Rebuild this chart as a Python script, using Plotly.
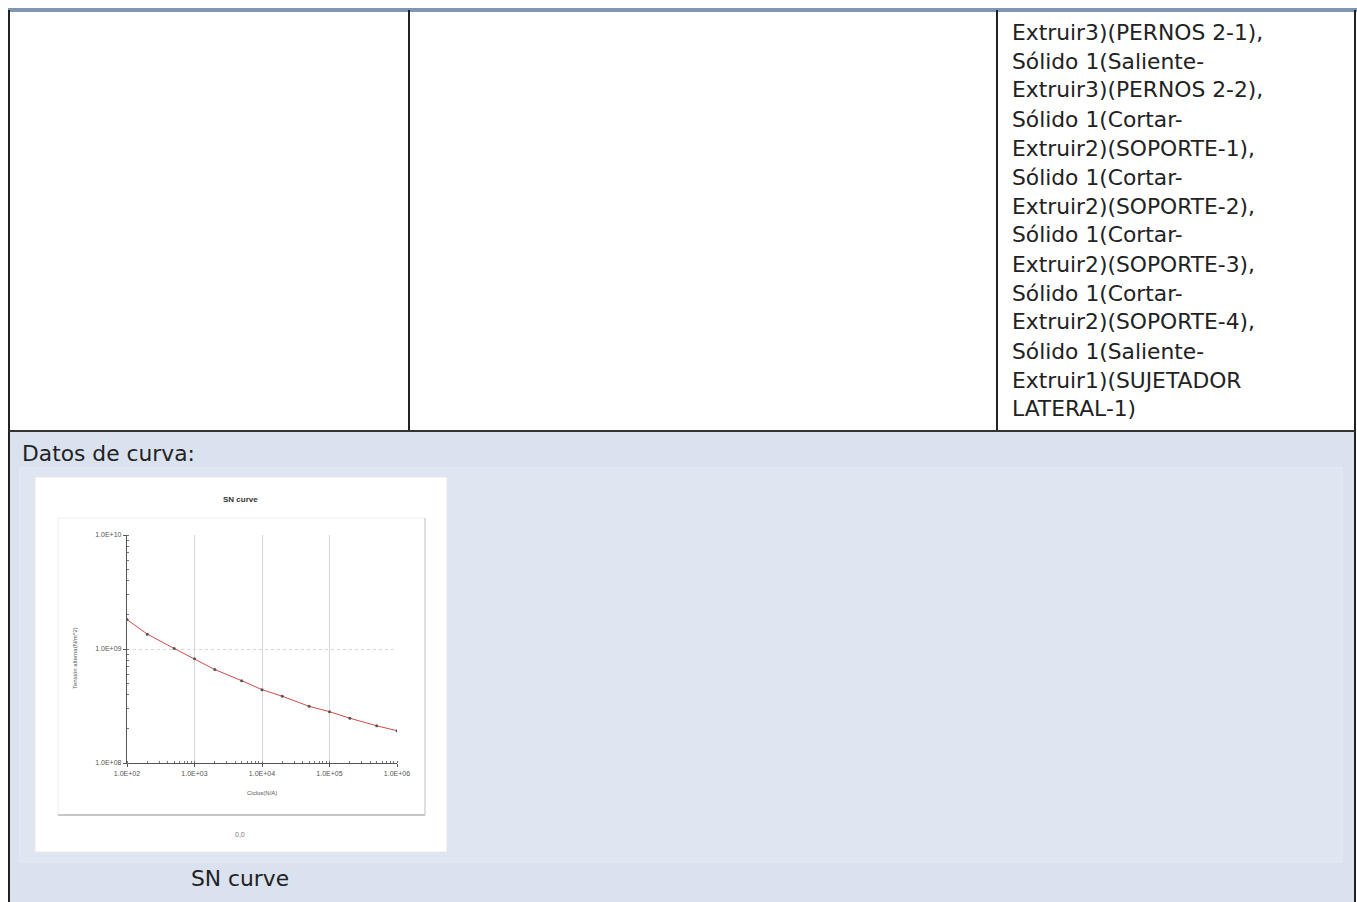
import plotly.graph_objects as go

# ---- data ----
cycles = [100, 200, 500, 1000, 2000, 5000, 10000, 20000, 50000, 100000, 200000, 500000, 1000000]
stress = [1.81e9, 1.35e9, 1.01e9, 8.2e8, 6.6e8, 5.27e8, 4.4e8, 3.85e8, 3.14e8, 2.82e8, 2.47e8, 2.12e8, 1.92e8]
x_tickvals = [1e2, 1e3, 1e4, 1e5, 1e6]
x_ticktext = ["1.0E+02", "1.0E+03", "1.0E+04", "1.0E+05", "1.0E+06"]
y_tickvals = [1e8, 1e9, 1e10]
y_ticktext = ["1.0E+08", "1.0E+09", "1.0E+10"]
cell_lines = [
    "Extruir3)(PERNOS 2-1),",
    "Sólido 1(Saliente-",
    "Extruir3)(PERNOS 2-2),",
    "Sólido 1(Cortar-",
    "Extruir2)(SOPORTE-1),",
    "Sólido 1(Cortar-",
    "Extruir2)(SOPORTE-2),",
    "Sólido 1(Cortar-",
    "Extruir2)(SOPORTE-3),",
    "Sólido 1(Cortar-",
    "Extruir2)(SOPORTE-4),",
    "Sólido 1(Saliente-",
    "Extruir1)(SUJETADOR",
    "LATERAL-1)",
]
section_label = "Datos de curva:"
chart_title = "SN curve"
caption = "SN curve"
x_title = "Ciclos(N/A)"
y_title = "Tensión alterna(N/m^2)"
footer_note = "0,0"

W, H = 1357, 902


def px(x):
    return x / W


def py(y):
    return 1 - y / H


fig = go.Figure()
fig.add_trace(go.Scatter(
    x=cycles, y=stress, mode="lines+markers",
    line=dict(color="#d24a4a", width=1),
    marker=dict(color="#555555", size=3),
    showlegend=False, hoverinfo="skip",
))

shapes = []


def rect(x0, y0, x1, y1, fill=None, line=None, lw=0, layer="below"):
    d = dict(type="rect", xref="paper", yref="paper",
             x0=px(x0), x1=px(x1), y0=py(y1), y1=py(y0), layer=layer,
             line=dict(width=lw, color=line or "rgba(0,0,0,0)"))
    if fill:
        d["fillcolor"] = fill
    shapes.append(d)


def line(x0, y0, x1, y1, color, w, layer="above"):
    shapes.append(dict(type="line", xref="paper", yref="paper",
                       x0=px(x0), x1=px(x1), y0=py(y0), y1=py(y1),
                       line=dict(color=color, width=w), layer=layer))


# lower row background
rect(9, 432, 1355, 902, fill="#dbe2ef")
rect(20, 468, 1342, 862, fill="#dfe5f1", line="#e6ebf5", lw=1)
# chart image box
rect(35, 477, 447, 852, fill="#ffffff", line="#e4e6ea", lw=1)
# inner chart frame
rect(58, 518, 425, 815, fill="#ffffff", line="#eeeeee", lw=1)
line(58, 815, 425, 815, "#9a9a9a", 1.2, layer="below")
line(425, 518, 425, 815, "#c8c8c8", 1, layer="below")

# table borders
line(8, 10, 1357, 10, "#8096b4", 4)
line(9, 10, 9, 902, "#222222", 2)
line(409, 10, 409, 431, "#222222", 2)
line(997, 10, 997, 431, "#222222", 2)
line(1355, 10, 1355, 902, "#222222", 2)
line(9, 431, 1355, 431, "#333333", 2)

annotations = []
txt_font = dict(family="DejaVu Sans", size=21.8, color="#222222")
for i, t in enumerate(cell_lines):
    annotations.append(dict(text=t, x=px(1010), y=py(32 + 29 * i), xref="paper", yref="paper",
                            xanchor="left", yanchor="middle", showarrow=False, font=txt_font))
annotations.append(dict(text=section_label, x=px(20), y=py(453), xref="paper", yref="paper",
                        xanchor="left", yanchor="middle", showarrow=False, font=txt_font))
annotations.append(dict(text=caption, x=px(240), y=py(878), xref="paper", yref="paper",
                        xanchor="center", yanchor="middle", showarrow=False, font=txt_font))
annotations.append(dict(text="<b>" + chart_title + "</b>", x=px(240), y=py(499), xref="paper", yref="paper",
                        xanchor="center", yanchor="middle", showarrow=False,
                        font=dict(family="Liberation Sans", size=8, color="#333333")))
annotations.append(dict(text=footer_note, x=px(240), y=py(834), xref="paper", yref="paper",
                        xanchor="center", yanchor="middle", showarrow=False,
                        font=dict(family="Liberation Sans", size=7, color="#777777")))
annotations.append(dict(text=x_title, x=px(262), y=py(793), xref="paper", yref="paper",
                        xanchor="center", yanchor="middle", showarrow=False,
                        font=dict(family="Liberation Sans", size=6, color="#555555")))
annotations.append(dict(text=y_title, x=px(75), y=py(658), xref="paper", yref="paper",
                        xanchor="center", yanchor="middle", showarrow=False, textangle=-90,
                        font=dict(family="Liberation Sans", size=6, color="#555555")))

axis_common = dict(
    type="log",
    tickfont=dict(family="Liberation Sans", size=7, color="#555555"),
    showgrid=True, gridcolor="#d9d9d9", gridwidth=1,
    showline=True, linecolor="#555555", linewidth=1.2,
    ticks="outside", ticklen=3, tickcolor="#555555",
    minor=dict(dtick="D1", ticks="inside", ticklen=2, tickcolor="#777777", showgrid=False),
    zeroline=False, fixedrange=True, automargin=False,
)

fig.update_layout(
    width=W, height=H,
    margin=dict(l=0, r=0, t=0, b=0, autoexpand=False),
    paper_bgcolor="#ffffff",
    plot_bgcolor="rgba(0,0,0,0)",
    shapes=shapes,
    annotations=annotations,
    xaxis=dict(axis_common, range=[2, 6], domain=[px(127), px(397)],
               tickvals=x_tickvals, ticktext=x_ticktext),
    yaxis=dict(axis_common, range=[8, 10], domain=[py(763), py(535)],
               tickvals=y_tickvals, ticktext=y_ticktext, griddash="dot"),
)

fig.write_html(
    "out.html",
    config={"displayModeBar": False},
    post_script="document.body.style.margin='0';document.body.style.overflow='hidden';",
)
